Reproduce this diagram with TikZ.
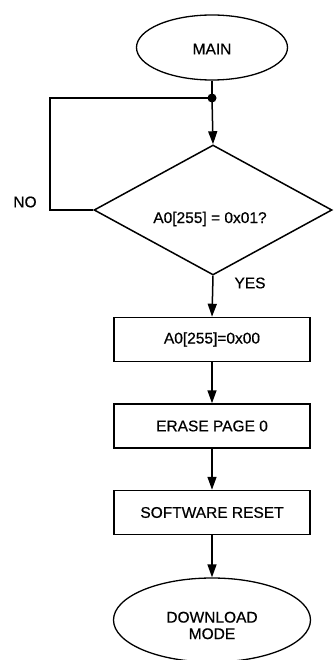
\documentclass[tikz,border=0pt]{standalone}
\usepackage{fontspec}
\setmainfont{Liberation Sans}[BoldFont={Liberation Sans},BoldFeatures={FakeBold=0.5}]
\usetikzlibrary{shapes.geometric,arrows.meta}
\begin{document}
\begin{tikzpicture}[x=1pt,y=-1pt,
  line width=1.5pt,
  txt/.style={font=\fontsize{15.5}{17.5}\selectfont\bfseries, align=center, inner sep=0pt},
  oval/.style={draw, ellipse, inner sep=0pt, line width=1.3pt},
  procbox/.style={draw, rectangle, minimum width=196pt, minimum height=44pt, inner sep=0pt, font=\fontsize{15.5}{17.5}\selectfont\bfseries},
  decision/.style={draw, diamond, inner sep=0pt, aspect=1.83, minimum width=238pt, minimum height=130pt},
  flow/.style={-{Triangle[length=13pt,width=9pt]}}
]
\useasboundingbox (0,0) rectangle (335,660);
\node[oval, minimum width=151pt, minimum height=65pt] (main) at (212,47.5) {};
\node[txt] (maint) at (212,49) {MAIN};
\coordinate (junc) at (212,98);
\fill (junc) circle (4.5pt);
\node[decision] (dia) at (213,210) {};
\node[txt] (diat) at (210,219) {A0[255] = 0x01?};
\node[procbox] (b1) at (212,339.5) {A0[255]=0x00};
\node[procbox] (b2) at (212,426) {ERASE PAGE 0};
\node[procbox] (b3) at (212,512.5) {SOFTWARE RESET};
\node[oval, minimum width=197pt, minimum height=84pt] (dl) at (212,620) {};
\node[txt] (dlt) at (212,625.5) {DOWNLOAD\\[-1pt]MODE};
\coordinate (loopc) at (50,98);
\draw (main.south) -- (junc);
\draw[flow] (junc) -- (dia.north);
\draw (junc) -- (loopc) |- (dia.west);
\draw[flow] (dia.south) -- (b1.north);
\draw[flow] (b1.south) -- (b2.north);
\draw[flow] (b2.south) -- (b3.north);
\draw[flow] (b3.south) -- (dl.north);
\node[txt] (no) at (25,202) {NO};
\node[txt] (yes) at (250,283) {YES};
\end{tikzpicture}
\end{document}
